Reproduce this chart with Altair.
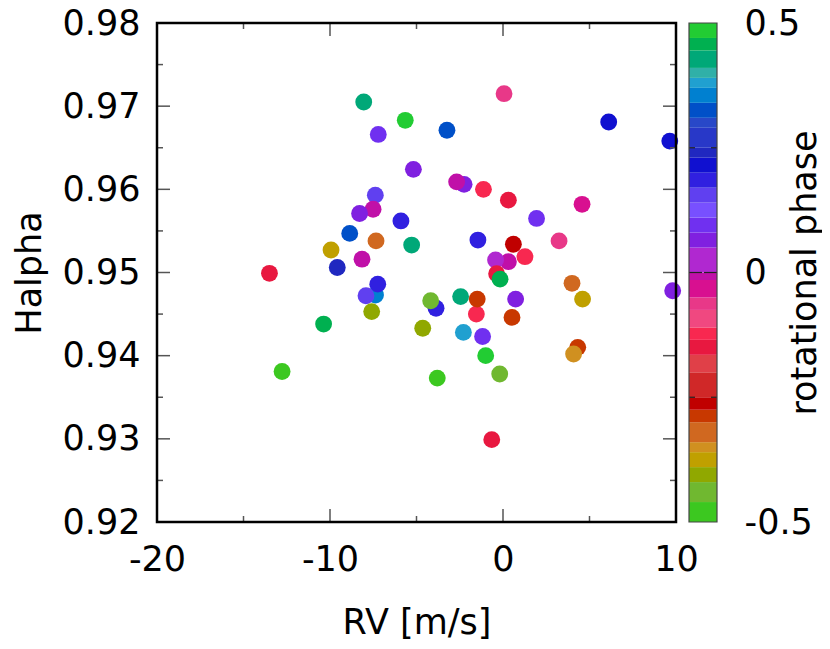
import altair as alt
import pandas as pd

# ---------------- data ----------------
rv = [-8.05, -5.65, -7.21, -5.18, -7.38, -7.51, -8.29, -5.90, -8.86, -7.34,
      -5.28, -9.94, -8.15, -9.58, -13.5, -7.37, -7.24, -7.92, -7.59, -10.37,
      -12.77, 0.06, -3.24, 6.11, 9.64, -2.25, -2.68, -1.13, 0.31, 1.94,
      4.57, -1.45, 3.24, 0.31, -0.43, 1.27, 0.60, -0.37, -0.17, 3.99,
      9.81, 4.60, -3.87, -4.18, -2.45, -1.54, -1.49, 0.73, 0.52, -4.64,
      -2.29, -1.18, 4.32, 4.08, -1.00, -3.80, -0.19, -0.65]
halpha = [0.9705, 0.9683, 0.9666, 0.9624, 0.9593, 0.9576, 0.9571, 0.9562, 0.9547, 0.9538,
          0.9533, 0.9527, 0.9516, 0.9506, 0.9499, 0.9473, 0.9486, 0.9472, 0.9453, 0.9438,
          0.9381, 0.9715, 0.9671, 0.9681, 0.9658, 0.9606, 0.9609, 0.9600, 0.9587, 0.9565,
          0.9582, 0.9539, 0.9538, 0.9513, 0.9515, 0.9519, 0.9534, 0.94985, 0.9492, 0.9487,
          0.9478, 0.9468, 0.9457, 0.9466, 0.9471, 0.9450, 0.9468, 0.9468, 0.9446, 0.9433,
          0.9428, 0.9423, 0.9410, 0.9402, 0.9400, 0.9373, 0.9378, 0.9299]
phase = [0.43, 0.49, 0.095, 0.065, 0.155, -0.008, 0.065, 0.185, 0.325, -0.32,
         0.43, -0.375, -0.008, 0.24, -0.15, 0.355, 0.185, 0.155, -0.405, 0.455,
         -0.48, -0.065, 0.325, 0.215, 0.215, 0.065, -0.008, -0.12, -0.15, 0.095,
         -0.03, 0.185, -0.06, -0.008, 0.02, -0.12, -0.26, -0.15, 0.455, -0.32,
         0.065, -0.375, 0.185, -0.45, 0.43, -0.12, -0.29, 0.065, -0.285, -0.405,
         0.38, 0.095, -0.29, -0.35, 0.485, -0.475, -0.44, -0.15]

# cyclic, stepped phase palette (block edges bottom -> top, and block colours)
phase_edges = [-0.5, -0.46, -0.42, -0.39, -0.36, -0.34, -0.30, -0.275, -0.25, -0.20,
               -0.165, -0.135, -0.11, -0.075, -0.05, -0.015, 0.0, 0.05, 0.08, 0.11,
               0.14, 0.17, 0.20, 0.23, 0.25, 0.29, 0.31, 0.34, 0.37, 0.39,
               0.41, 0.445, 0.47, 0.5]
phase_colors = ["#3cc820", "#70b830", "#90a800", "#c0a000", "#d09020", "#d06820",
                "#c83800", "#c00000", "#d02828", "#e04048", "#e81840", "#f82850",
                "#f04880", "#e83888", "#d81090", "#c010a8", "#b028d0", "#8020e0",
                "#7030f0", "#7850ff", "#6040f0", "#3020e0", "#1010d0", "#2028c0",
                "#2838c8", "#2848c8", "#0050c8", "#0080d0", "#20a0d0", "#30b0a8",
                "#00a878", "#00b050", "#22cc33"]

x_major = [-20, -10, 0, 10]
x_minor = [-15, -5, 5]
y_major = [0.92, 0.93, 0.94, 0.95, 0.96, 0.97, 0.98]
y_minor = [0.925, 0.935, 0.945, 0.955, 0.965, 0.975]
cb_labels = [-0.5, 0, 0.5]
cb_major = [0]
cb_minor = [-0.25, 0.25]

# ---------------- styling ----------------
W, H, CBW = 519, 499, 28
FONT, FS = "DejaVu Sans", 35
TICK = "#555555"
MAJ, MIN = 13, 6

xsc = alt.Scale(domain=[-20, 10], nice=False, zero=False)
ysc = alt.Scale(domain=[0.92, 0.98], nice=False, zero=False)
csc = alt.Scale(domain=[-0.5, 0.5], nice=False, zero=False)
phase_scale = alt.Scale(type="threshold", domain=phase_edges[1:-1], range=phase_colors)

signed = "(datum.value < 0 ? '-' : '\u00a0') + abs(datum.value)"

XT, YT, CT = "RV [m/s]", "Halpha", "rotational phase"
xax = alt.Axis(values=x_major, labelExpr=signed, ticks=False, tickSize=0,
               domain=False, grid=False, labelPadding=20, labelFlush=False,
               labelOverlap=False, titleX=W / 2, titleY=100,
               titleBaseline="middle", titleAlign="center")
yax = alt.Axis(values=y_major, format=".2f", ticks=False, tickSize=0,
               domain=False, grid=False, labelPadding=17, labelFlush=False,
               labelOverlap=False, titleX=-128, titleY=H / 2, titleAngle=270,
               titleBaseline="middle", titleAlign="center")
cax = alt.Axis(orient="right", values=cb_labels, labelExpr=signed, ticks=False,
               tickSize=0, domain=False, grid=False, labelPadding=27,
               labelFlush=False, labelOverlap=False, titleX=87, titleY=H / 2,
               titleAngle=270, titleBaseline="middle", titleAlign="center")

pts = pd.DataFrame({"rv": rv, "halpha": halpha, "phase": phase})

points = alt.Chart(pts).mark_circle(size=284, opacity=1).encode(
    x=alt.X("rv:Q", scale=xsc, title=XT, axis=xax),
    y=alt.Y("halpha:Q", scale=ysc, title=YT, axis=yax),
    color=alt.Color("phase:Q", scale=phase_scale, legend=None),
)


def ticks_x(vals, length, top):
    d = pd.DataFrame({"v": vals})
    y0 = 0 if top else H
    y1 = length if top else H - length
    return alt.Chart(d).mark_rule(color=TICK, strokeWidth=1.5).encode(
        x=alt.X("v:Q", scale=xsc, title=XT, axis=xax), y=alt.value(y0), y2=alt.value(y1))


def ticks_y(vals, length, right, scale, width, title, axis, color=TICK, sw=1.5):
    d = pd.DataFrame({"v": vals})
    x0 = width if right else 0
    x1 = width - length if right else length
    return alt.Chart(d).mark_rule(color=color, strokeWidth=sw).encode(
        y=alt.Y("v:Q", scale=scale, title=title, axis=axis),
        x=alt.value(x0), x2=alt.value(x1))


one = pd.DataFrame({"k": [0]})
frame = alt.Chart(one).mark_rect(fillOpacity=0, stroke="black", strokeWidth=2.5).encode(
    x=alt.value(0), x2=alt.value(W), y=alt.value(0), y2=alt.value(H))

main = alt.layer(
    points,
    ticks_x(x_major, MAJ, False), ticks_x(x_minor, MIN, False),
    ticks_x(x_major, MAJ, True), ticks_x(x_minor, MIN, True),
    ticks_y(y_major, MAJ, False, ysc, W, YT, yax), ticks_y(y_minor, MIN, False, ysc, W, YT, yax),
    ticks_y(y_major, MAJ, True, ysc, W, YT, yax), ticks_y(y_minor, MIN, True, ysc, W, YT, yax),
    frame,
).properties(width=W, height=H)

cbd = pd.DataFrame({"lo": phase_edges[:-1], "hi": phase_edges[1:], "c": phase_colors})
bar = alt.Chart(cbd).mark_rect().encode(
    y=alt.Y("lo:Q", scale=csc, title=CT, axis=cax),
    y2=alt.Y2("hi:Q"),
    x=alt.value(0), x2=alt.value(CBW),
    color=alt.Color("c:N", scale=None),
)
cframe = alt.Chart(one).mark_rect(fillOpacity=0, stroke="#444444", strokeWidth=1.2).encode(
    x=alt.value(0), x2=alt.value(CBW), y=alt.value(0), y2=alt.value(H))

CTK = "#222222"
cbar = alt.layer(
    bar,
    ticks_y(cb_major, MAJ, False, csc, CBW, CT, cax, CTK, 1.2),
    ticks_y(cb_major, MAJ, True, csc, CBW, CT, cax, CTK, 1.2),
    ticks_y(cb_minor, MIN, False, csc, CBW, CT, cax, CTK, 1.2),
    ticks_y(cb_minor, MIN, True, csc, CBW, CT, cax, CTK, 1.2),
    cframe,
).properties(width=CBW, height=H)

chart = alt.hconcat(main, cbar, spacing=13, bounds="flush").resolve_scale(
    color="independent", y="independent"
).properties(
    padding={"left": 4, "top": -2, "right": 0, "bottom": 0}
).configure_view(strokeWidth=0).configure_axis(
    labelFont=FONT, labelFontSize=FS, labelColor="black",
    titleFont=FONT, titleFontSize=FS, titleColor="black", titleFontWeight="normal",
)

chart.save("out.html", embed_options={"renderer": "svg", "actions": False})
